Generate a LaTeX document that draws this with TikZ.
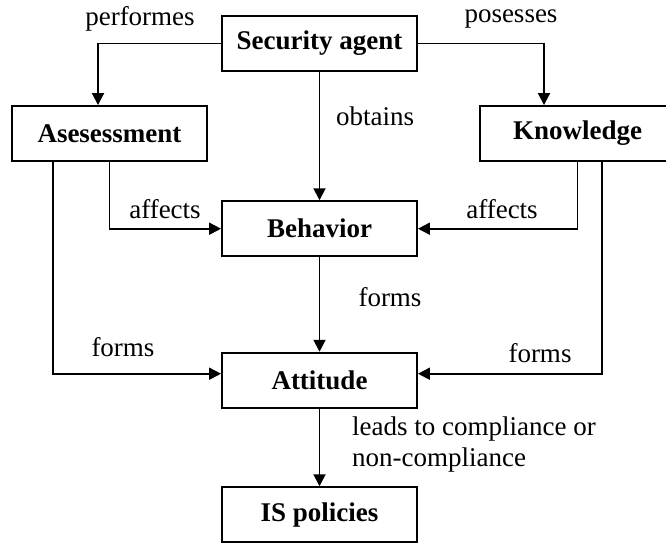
\documentclass[tikz,border=0pt]{standalone}
\usepackage{fontspec}
\setmainfont{Liberation Serif}
\usetikzlibrary{arrows.meta}
\begin{document}
\begin{tikzpicture}[x=1pt,y=-1pt,
  box/.style={draw,line width=1.9pt,minimum width=195pt,minimum height=55pt,inner sep=0pt,
    font=\fontsize{27}{31}\selectfont\bfseries},
  lbl/.style={inner sep=0pt,font=\fontsize{27}{31}\selectfont},
  arr/.style={line width=1.9pt,-{Triangle[length=12pt,width=12pt]}}]
\useasboundingbox (0,0) rectangle (666,542);
\clip (0,0) rectangle (666,542);

% boxes
\node[box] (sec)  at (319.5,43.5)  {Security agent};
\node[box] (ases) at (109.5,133.5) {Asesessment};
\node[box] (know) at (577.5,133.5) {Knowledge};
\node[box] (beh)  at (319.5,228.7) {Behavior};
\node[box] (att)  at (319.5,380.2) {Attitude};
\node[box] (isp)  at (319.5,514.7) {IS policies};

% connectors
\draw[arr] (sec.west) -| ([xshift=-11.5pt]ases.north);
\draw[arr] (sec.east) -| ([xshift=-33.5pt]know.north);
\draw[arr] (sec.south) -- (beh.north);
\draw[arr] (ases.south) |- (beh.west);
\draw[arr] ([xshift=-56.5pt]ases.south) |- ([yshift=6.5pt]att.west);
\draw[arr] (know.south) |- (beh.east);
\draw[arr] ([xshift=24.5pt]know.south) |- ([yshift=6.5pt]att.east);
\draw[arr] (beh.south) -- (att.north);
\draw[arr] (att.south) -- (isp.north);

% labels
\node[lbl] (l1) at (140,19) {performes};
\node[lbl] (l2) at (511,19) {posesses};
\node[lbl] (l3) at (375,116) {obtains};
\node[lbl] (l4) at (165,209) {affects};
\node[lbl] (l5) at (502,209) {affects};
\node[lbl] (l6) at (390,297) {forms};
\node[lbl] (l7) at (123,347) {forms};
\node[lbl] (l8) at (540,353) {forms};
\node[lbl,anchor=west,align=left] (l9) at (352,444.5) {leads to compliance or\\non-compliance};
\end{tikzpicture}
\end{document}
